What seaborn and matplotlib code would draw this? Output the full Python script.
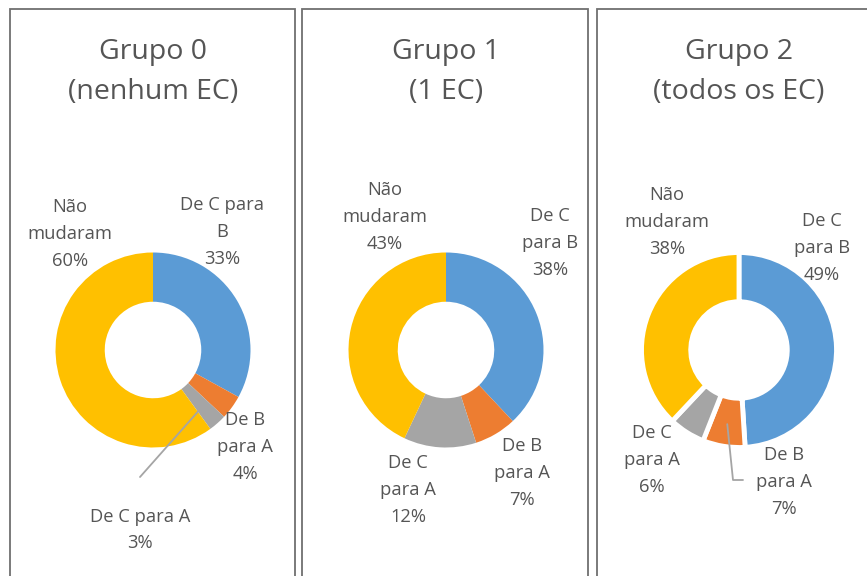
import numpy as np
import matplotlib
matplotlib.use("Agg")
import matplotlib.pyplot as plt
from matplotlib.patches import Rectangle
import seaborn as sns

# data
categories = ["De C para B", "De B para A", "De C para A", "Não mudaram"]
titles = ["Grupo 0\n(nenhum EC)", "Grupo 1\n(1 EC)", "Grupo 2\n(todos os EC)"]
g0 = [33, 4, 3, 60]
g1 = [38, 7, 12, 43]
g2 = [49, 7, 6, 38]
groups = [g0, g1, g2]

# label text per group (same order as categories)
labels_g0 = ["De C para\nB", "De B\npara A", "De C para A", "Não\nmudaram"]
labels_g1 = ["De C\npara B", "De B\npara A", "De C\npara A", "Não\nmudaram"]
labels_g2 = ["De C\npara B", "De B\npara A", "De C\npara A", "Não\nmudaram"]
group_labels = [labels_g0, labels_g1, labels_g2]

sns.set_theme(style="white")
plt.rcParams['font.family'] = ['Open Sans', 'DejaVu Sans']
palette = sns.color_palette(["#5B9BD5", "#ED7D31", "#A5A5A5", "#FFC000"])
txt = "#555555"

W, H = 867, 576
fig = plt.figure(figsize=(W / 100, H / 100), dpi=100)
ax = fig.add_axes([0, 0, 1, 1])

# layout in pixel coordinates (y down)
panels = [(10, 295), (302, 588), (597, 880)]
centers = [(153, 350), (446, 350), (739, 350)]
R = 97.5
label_pos = [
    [(222, 232), (245, 447), (140, 530), (70, 234)],
    [(550, 243), (522, 473), (408, 490), (385, 217)],
    [(822, 248), (784, 482), (652, 460), (667, 222)],
]
leaders = {(0, 2): [(140, 477)], (2, 1): [(733, 480), (743, 480)]}
edge_lw = [0, 0, 3.5]

for i, vals in enumerate(groups):
    x0, x1 = panels[i]
    ax.add_patch(Rectangle((x0, -10), x1 - x0, H - 9 + 10, fill=False,
                           edgecolor="#6F6F6F", lw=1.3))
    cx, cy = centers[i]
    wedges, _ = ax.pie(vals, colors=palette, startangle=90, counterclock=False,
                       center=(cx, H - cy), radius=R,
                       wedgeprops=dict(width=R * 0.505, edgecolor="white",
                                       linewidth=edge_lw[i]))
    ax.text(cx, H - 72, titles[i], ha="center", va="center", fontsize=20.5,
            color=txt, linespacing=1.6)
    for j, w in enumerate(wedges):
        lx, ly = label_pos[i][j]
        ax.text(lx, H - ly, f"{group_labels[i][j]}\n{vals[j]}%", ha="center",
                va="center", fontsize=13.2, color=txt, linespacing=1.63)
        if (i, j) in leaders:
            ang = np.deg2rad((w.theta1 + w.theta2) / 2)
            sx = cx + 0.77 * R * np.cos(ang)
            sy = (H - cy) + 0.77 * R * np.sin(ang)
            pts = [(sx, sy)] + [(px, H - py) for px, py in leaders[(i, j)]]
            ax.plot([p[0] for p in pts], [p[1] for p in pts], color="#A5A5A5", lw=1.3)

ax.set_xlim(0, W)
ax.set_ylim(0, H)
ax.set_aspect("auto")
ax.axis("off")

fig.savefig("out.png", dpi=100)
